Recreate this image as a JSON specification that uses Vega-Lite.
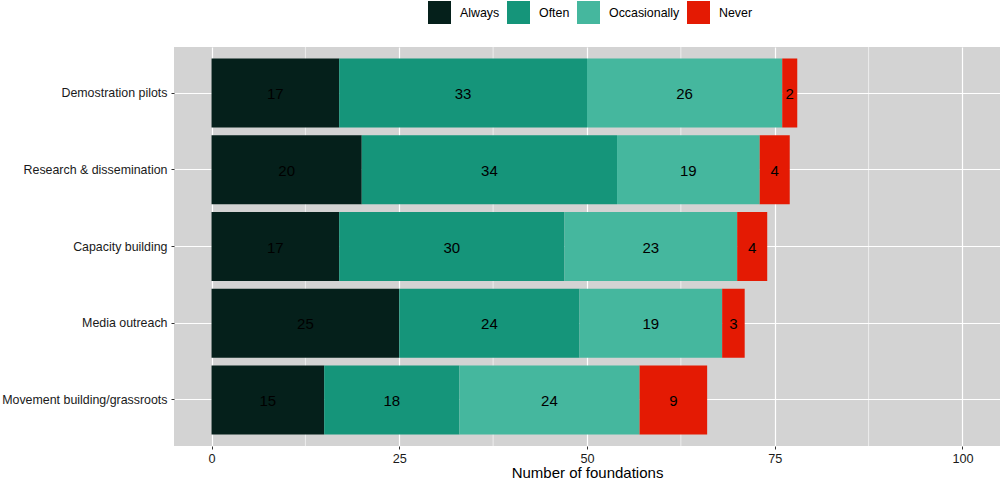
{
  "$schema": "https://vega.github.io/schema/vega-lite/v6.json",
  "width": 826,
  "height": 399,
  "autosize": {"type": "none"},
  "padding": {"left": 174, "top": 47, "right": 0, "bottom": 34},
  "config": {
    "font": "Liberation Sans",
    "view": {"fill": "#D3D3D3", "stroke": null}
  },
  "data": {
    "values": [
      {"task": "Demostration pilots", "freq": "Always", "n": 17},
      {"task": "Demostration pilots", "freq": "Often", "n": 33},
      {"task": "Demostration pilots", "freq": "Occasionally", "n": 26},
      {"task": "Demostration pilots", "freq": "Never", "n": 2},
      {"task": "Research & dissemination", "freq": "Always", "n": 20},
      {"task": "Research & dissemination", "freq": "Often", "n": 34},
      {"task": "Research & dissemination", "freq": "Occasionally", "n": 19},
      {"task": "Research & dissemination", "freq": "Never", "n": 4},
      {"task": "Capacity building", "freq": "Always", "n": 17},
      {"task": "Capacity building", "freq": "Often", "n": 30},
      {"task": "Capacity building", "freq": "Occasionally", "n": 23},
      {"task": "Capacity building", "freq": "Never", "n": 4},
      {"task": "Media outreach", "freq": "Always", "n": 25},
      {"task": "Media outreach", "freq": "Often", "n": 24},
      {"task": "Media outreach", "freq": "Occasionally", "n": 19},
      {"task": "Media outreach", "freq": "Never", "n": 3},
      {"task": "Movement building/grassroots", "freq": "Always", "n": 15},
      {"task": "Movement building/grassroots", "freq": "Often", "n": 18},
      {"task": "Movement building/grassroots", "freq": "Occasionally", "n": 24},
      {"task": "Movement building/grassroots", "freq": "Never", "n": 9}
    ]
  },
  "layer": [
    {
      "data": {"values": [{"m": 12.5}, {"m": 37.5}, {"m": 62.5}, {"m": 87.5}]},
      "mark": {"type": "rule", "color": "white", "strokeWidth": 0.6},
      "encoding": {
        "x": {
          "field": "m", "type": "quantitative",
          "scale": {"domain": [-5, 105], "nice": false, "zero": false},
          "axis": {"title": "Number of foundations", "values": [0, 25, 50, 75, 100], "grid": true, "gridColor": "white", "gridWidth": 1.2, "domain": false, "tickColor": "#333333", "tickSize": 3, "labelPadding": 3, "labelFontSize": 12.7, "labelColor": "#1a1a1a", "titleFontSize": 15, "titleFontWeight": "normal", "titleColor": "black", "titlePadding": 1}
        }
      }
    },
    {
      "transform": [{"calculate": "indexof(['Always','Often','Occasionally','Never'], datum.freq)", "as": "k"}],
      "mark": {"type": "bar"},
      "encoding": {
        "y": {
          "field": "task", "type": "nominal",
          "sort": ["Demostration pilots", "Research & dissemination", "Capacity building", "Media outreach", "Movement building/grassroots"],
          "scale": {"paddingInner": 0.1, "paddingOuter": 0.15},
          "axis": {"title": null, "bandPosition": 0.5, "grid": true, "gridColor": "white", "gridWidth": 1.2, "domain": false, "tickColor": "#333333", "tickSize": 3, "labelPadding": 4, "labelFontSize": 12.4, "labelColor": "#1a1a1a", "labelLimit": 300}
        },
        "x": {
          "field": "n", "type": "quantitative", "stack": "zero",
          "scale": {"domain": [-5, 105], "nice": false, "zero": false},
          "axis": {"title": "Number of foundations", "values": [0, 25, 50, 75, 100], "grid": true, "gridColor": "white", "gridWidth": 1.2, "domain": false, "tickColor": "#333333", "tickSize": 3, "labelPadding": 3, "labelFontSize": 12.7, "labelColor": "#1a1a1a", "titleFontSize": 15, "titleFontWeight": "normal", "titleColor": "black", "titlePadding": 1}
        },
        "order": {"field": "k", "type": "quantitative"},
        "color": {
          "field": "freq", "type": "nominal",
          "scale": {"domain": ["Always", "Often", "Occasionally", "Never"], "range": ["#05201B", "#15957A", "#45B79E", "#E41A03"]},
          "legend": {"title": null, "orient": "none", "legendX": 254, "legendY": -46, "direction": "horizontal", "symbolType": "square", "symbolSize": 529, "symbolStrokeWidth": 0, "symbolOpacity": 1, "labelFontSize": 12.4, "labelOffset": 9, "columnPadding": 7, "labelColor": "black", "padding": 0}
        }
      }
    },
    {
      "transform": [{"calculate": "indexof(['Always','Often','Occasionally','Never'], datum.freq)", "as": "k"}],
      "mark": {"type": "text", "fontSize": 15, "color": "black", "align": "center", "baseline": "middle", "dy": 1},
      "encoding": {
        "y": {
          "field": "task", "type": "nominal",
          "sort": ["Demostration pilots", "Research & dissemination", "Capacity building", "Media outreach", "Movement building/grassroots"]
        },
        "x": {"field": "n", "type": "quantitative", "stack": "zero", "bandPosition": 0.5},
        "order": {"field": "k", "type": "quantitative"},
        "text": {"field": "n", "type": "quantitative"}
      }
    }
  ]
}
